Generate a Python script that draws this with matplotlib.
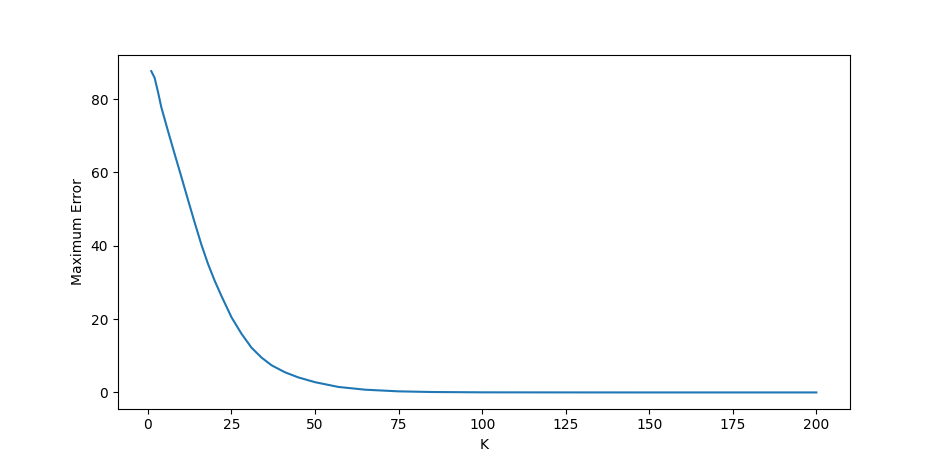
import matplotlib
matplotlib.use("Agg")
import matplotlib.pyplot as plt

# values
k_values = [1, 2, 3, 4, 6, 8, 10, 12, 14, 16, 18, 20, 22, 25, 28, 31, 34, 37, 41, 45, 50, 57, 65, 75, 85, 100, 125, 150, 175, 200]
max_error = [87.6, 85.8, 82.0, 77.8, 71.3, 65.0, 58.8, 52.5, 46.3, 40.3, 35.0, 30.4, 26.3, 20.5, 16.0, 12.2, 9.5, 7.4, 5.5, 4.1, 2.8, 1.5, 0.75, 0.3, 0.12, 0.03, 0.01, 0.0, 0.0, 0.0]

fig = plt.figure(figsize=(9.44, 4.59), dpi=100)
plt.plot(k_values, max_error)
plt.xlabel("K")
plt.ylabel("Maximum Error")
plt.savefig("out.png")
